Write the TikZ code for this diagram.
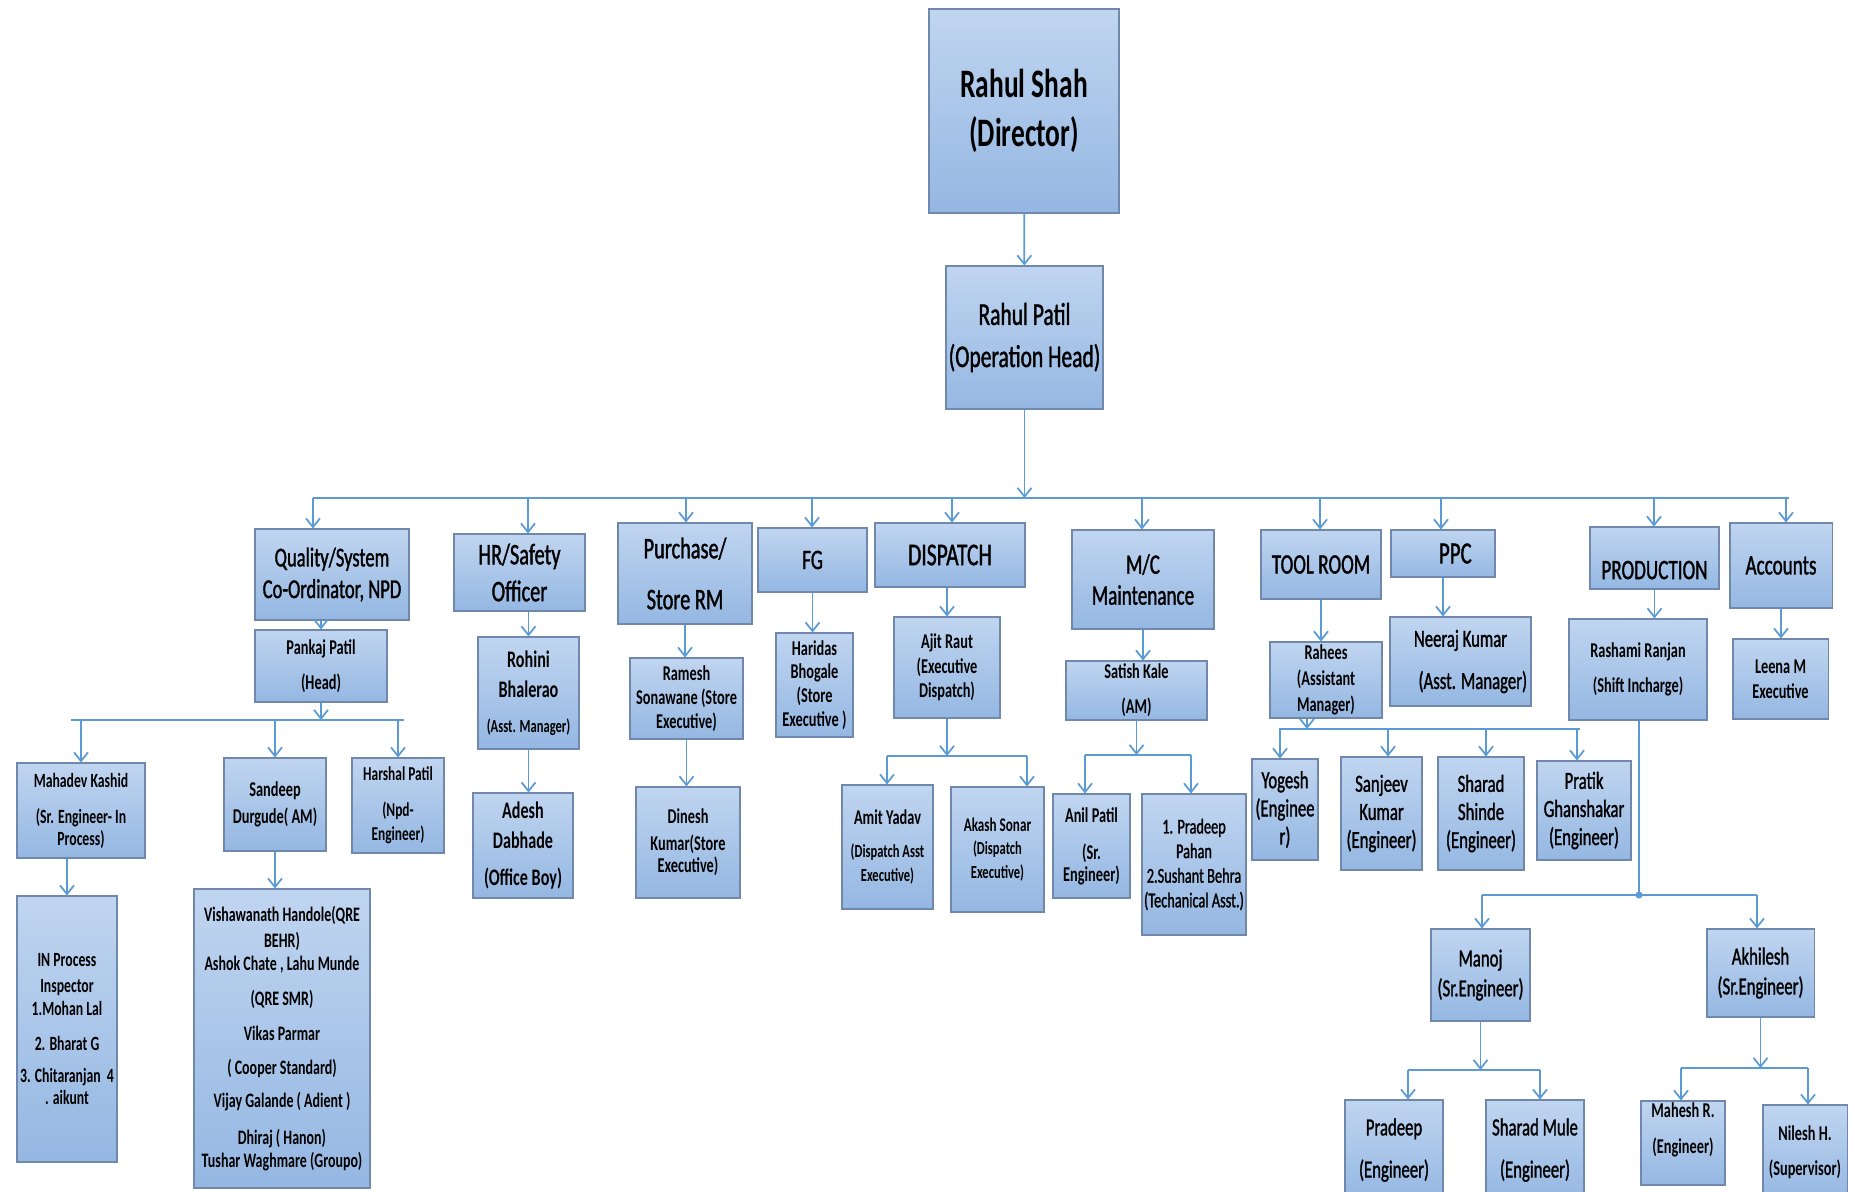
\documentclass[tikz,border=0pt]{standalone}
\usepackage{fontspec}
\setmainfont{Carlito}[FakeStretch=0.68,UprightFeatures={FakeBold=1.2}]
\usetikzlibrary{arrows.meta}
\definecolor{azul}{RGB}{91,155,213}
\definecolor{topo}{RGB}{192,213,240}
\definecolor{base}{RGB}{148,183,226}
\definecolor{borda}{RGB}{112,136,172}
% caixa[fonte]{nome}{x1}{y1}{x2}{y2}{texto}
\newcommand{\caixa}[7][]{%
  \node[caixa,#1,minimum width={(#5-#3)*0.02cm},minimum height={(#6-#4)*0.02cm}]
    (#2) at ({(#3+#5)/2},{(#4+#6)/2}) {#7};}
\newcommand{\menor}[1]{{\fontsize{10.5pt}{12pt}\selectfont #1}}

\begin{document}
\begin{tikzpicture}[x=0.02cm,y=-0.02cm,>={Straight Barb[length=5pt,width=8pt]},
  caixa/.style={draw=borda,line width=0.6pt,top color=topo,bottom color=base,inner sep=0pt,align=center},
  lig/.style={azul,line width=1pt,->},
  barra/.style={azul,line width=1.4pt}]
  \useasboundingbox (0,0) rectangle (1855,1191);

  %diretor e chefe de operacao
  \caixa[font=\bfseries\fontsize{23pt}{28pt}\selectfont]{shah}{929}{9}{1119}{213}{Rahul Shah\\(Director)}
  \caixa[font=\fontsize{18pt}{24pt}\selectfont]{patil}{946}{266}{1103}{409}{Rahul Patil\\(Operation Head)}

  %departamentos
  \caixa[font=\fontsize{15.5pt}{18pt}\selectfont]{qual}{255}{529}{409}{620}{Quality/System\\Co-Ordinator, NPD}
  \caixa[font=\fontsize{17pt}{21pt}\selectfont]{hr}{454}{534}{585}{611}{HR/Safety\\Officer}
  \caixa[font=\fontsize{17pt}{29pt}\selectfont]{purch}{618}{523}{752}{624}{Purchase/\\Store RM}
  \caixa[font=\fontsize{16pt}{19pt}\selectfont]{fg}{758}{528}{867}{592}{FG}
  \caixa[font=\fontsize{18pt}{21pt}\selectfont]{disp}{875}{523}{1025}{587}{DISPATCH}
  \caixa[font=\fontsize{16pt}{17.6pt}\selectfont]{mc}{1072}{530}{1214}{629}{M/C\\Maintenance}
  \caixa[font=\fontsize{16pt}{19pt}\selectfont]{tool}{1261}{530}{1381}{599}{TOOL ROOM}
  \caixa[font=\fontsize{17.5pt}{20pt}\selectfont]{ppc}{1391}{530}{1495}{577}{\hspace*{14pt}PPC}
  \caixa[font=\fontsize{16pt}{19pt}\selectfont,text height=24pt,text depth=0pt]{prod}{1590}{527}{1719}{589}{PRODUCTION}
  \caixa[font=\fontsize{16pt}{19pt}\selectfont]{acc}{1730}{523}{1832}{608}{Accounts}

  %segundo nivel
  \caixa[font=\bfseries\fontsize{12pt}{20pt}\selectfont]{pankaj}{255}{630}{387}{702}{Pankaj Patil\\(Head)}
  \caixa[font=\bfseries\fontsize{13.5pt}{17pt}\selectfont]{rohini}{478}{637}{579}{749}{Rohini\\Bhalerao\\[3pt]\menor{(Asst. Manager)}}
  \caixa[font=\bfseries\fontsize{12pt}{13.5pt}\selectfont]{ramesh}{630}{658}{743}{739}{Ramesh\\Sonawane (Store\\Executive)}
  \caixa[font=\bfseries\fontsize{12pt}{13.5pt}\selectfont]{haridas}{776}{633}{853}{737}{Haridas\\Bhogale\\(Store\\Executive )}
  \caixa[font=\bfseries\fontsize{12pt}{14pt}\selectfont]{ajit}{894}{617}{1000}{718}{Ajit Raut\\(Executive\\Dispatch)}
  \caixa[font=\bfseries\fontsize{12pt}{20pt}\selectfont]{satish}{1066}{661}{1207}{720}{Satish Kale\\(AM)}
  \caixa[font=\bfseries\fontsize{12pt}{15pt}\selectfont]{rahees}{1270}{642}{1382}{718}{Rahees\\(Assistant\\Manager)}
  \caixa[font=\fontsize{14pt}{24pt}\selectfont]{neeraj}{1390}{617}{1531}{706}{Neeraj Kumar\\\hspace*{14pt}(Asst. Manager)}
  \caixa[font=\bfseries\fontsize{12pt}{20pt}\selectfont]{rashami}{1569}{619}{1707}{720}{Rashami Ranjan\\(Shift Incharge)}
  \caixa[font=\bfseries\fontsize{12pt}{14pt}\selectfont]{leena}{1733}{639}{1828}{719}{Leena M\\Executive}

  %terceiro nivel
  \caixa[font=\bfseries\fontsize{11.5pt}{12.5pt}\selectfont]{mahadev}{17}{763}{145}{858}{Mahadev Kashid\\[8pt](Sr. Engineer- In\\Process)}
  \caixa[font=\bfseries\fontsize{12pt}{15pt}\selectfont]{sandeep}{224}{758}{326}{851}{Sandeep\\Durgude( AM)}
  \caixa[font=\bfseries\fontsize{11.2pt}{14pt}\selectfont]{harshal}{352}{758}{444}{853}{Harshal Patil\\[6pt](Npd-\\Engineer)}
  \caixa[font=\bfseries\fontsize{11.5pt}{13pt}\selectfont]{inproc}{17}{896}{117}{1162}{IN Process\\[2pt]Inspector\\1.Mohan Lal\\[7pt]2. Bharat G\\[5pt]3. Chitaranjan\ \ 4\\. aikunt}
  \caixa[font=\bfseries\fontsize{11.7pt}{13pt}\selectfont]{vish}{194}{889}{370}{1188}{Vishawanath Handole(QRE\\[2pt]BEHR)\\Ashok Chate , Lahu Munde\\[7pt](QRE SMR)\\[7pt]Vikas Parmar\\[6pt]( Cooper Standard)\\[6pt]Vijay Galande ( Adient )\\[8pt]Dhiraj ( Hanon)\\Tushar Waghmare (Groupo)}
  \caixa[font=\bfseries\fontsize{13.5pt}{17pt}\selectfont]{adesh}{473}{793}{573}{898}{Adesh\\Dabhade\\[4pt](Office Boy)}
  \caixa[font=\bfseries\fontsize{12pt}{13pt}\selectfont]{dinesh}{636}{787}{740}{898}{Dinesh\\[2pt]Kumar(Store\\Executive)}
  \caixa[font=\bfseries\fontsize{12pt}{13.5pt}\selectfont]{amit}{842}{785}{933}{909}{Amit Yadav\\[5pt]\menor{(Dispatch Asst}\\\menor{Executive)}}
  \caixa[font=\bfseries\fontsize{11pt}{13.3pt}\selectfont]{akash}{951}{787}{1044}{912}{Akash Sonar\\\menor{(Dispatch}\\\menor{Executive)}}
  \caixa[font=\bfseries\fontsize{12pt}{12.5pt}\selectfont]{anil}{1053}{794}{1130}{898}{Anil Patil\\[8.5pt](Sr.\\Engineer)}
  \caixa[font=\fontsize{12pt}{14pt}\selectfont]{pahan}{1142}{794}{1246}{935}{1. Pradeep\\Pahan\\2.Sushant Behra\\(Techanical Asst.)}
  \caixa[font=\fontsize{14pt}{16pt}\selectfont]{yogesh}{1252}{759}{1318}{860}{Yogesh\\(Enginee\\r)}
  \caixa[font=\fontsize{14pt}{16pt}\selectfont]{sanjeev}{1341}{757}{1422}{870}{Sanjeev\\Kumar\\(Engineer)}
  \caixa[font=\fontsize{14pt}{16pt}\selectfont]{sharads}{1438}{757}{1524}{870}{Sharad\\Shinde\\(Engineer)}
  \caixa[font=\fontsize{14pt}{16pt}\selectfont]{pratik}{1537}{761}{1631}{860}{Pratik\\Ghanshakar\\(Engineer)}

  %producao
  \caixa[font=\fontsize{14pt}{17pt}\selectfont]{manoj}{1431}{929}{1530}{1021}{Manoj\\(Sr.Engineer)}
  \caixa[font=\fontsize{14pt}{17pt}\selectfont]{akhilesh}{1707}{929}{1814}{1017}{Akhilesh\\(Sr.Engineer)}
  \caixa[font=\fontsize{14pt}{24pt}\selectfont]{pradeep}{1345}{1100}{1443}{1200}{Pradeep\\(Engineer)}
  \caixa[font=\fontsize{14pt}{24pt}\selectfont]{sharadm}{1486}{1100}{1584}{1200}{Sharad Mule\\(Engineer)}
  \caixa[font=\bfseries\fontsize{12pt}{21pt}\selectfont,text depth=17pt]{mahesh}{1641}{1101}{1725}{1185}{Mahesh R.\\(Engineer)}
  \caixa[font=\bfseries\fontsize{12pt}{20pt}\selectfont]{nilesh}{1763}{1105}{1847}{1200}{Nilesh H.\\(Supervisor)}

  %ligacoes de cima
  \draw[lig] (shah) -- (patil);
  \coordinate (bE) at (313,498);
  \coordinate (bD) at (1789,498);
  \draw[lig] (patil) -- (patil |- bE);
  \draw[barra] (bE) -- (bD);
  \foreach \n/\x in {qual/313,hr/528,purch/686,fg/812,disp/952,mc/1142,tool/1320,ppc/1441,prod/1654,acc/1786}{
    \coordinate (t) at (\x,498);
    \draw[lig] (t) -- (t |- \n.north);}

  %ligacoes simples
  \foreach \p/\f in {rohini/adesh,purch/ramesh,ramesh/dinesh,fg/haridas,mc/satish,ppc/neeraj,prod/rashami,acc/leena,sandeep/vish,tool/rahees}
    \draw[lig] (\p.south) -- (\p.south |- \f.north);
  \foreach \p/\f in {qual/pankaj,hr/rohini,disp/ajit,mahadev/inproc}
    \draw[lig] (\f.north |- \p.south) -- (\f.north);

  %barra da qualidade
  \coordinate (qE) at (71,720);
  \coordinate (qD) at (404,720);
  \draw[lig] (pankaj) -- (pankaj |- qE);
  \draw[barra] (qE) -- (qD);
  \foreach \f in {mahadev,sandeep,harshal}
    \draw[lig] (\f.north |- qE) -- (\f.north);

  %barra do dispatch
  \coordinate (dE) at (887,756);
  \coordinate (dD) at (1027,756);
  \draw[lig] (ajit.south) -- (ajit.south |- dE);
  \draw[barra] (dE) -- (dD);
  \draw[lig] (dE) -- (dE |- amit.north);
  \draw[lig] (dD) -- (dD |- akash.north);

  %barra da manutencao
  \coordinate (mE) at (1085,755);
  \coordinate (mD) at (1191,755);
  \draw[lig] (satish.south) -- (satish.south |- mE);
  \draw[barra] (mE) -- (mD);
  \draw[lig] (mE) -- (mE |- anil.north);
  \draw[lig] (mD) -- (mD |- pahan.north);

  %barra do tool room
  \coordinate (tE) at (1279,729);
  \coordinate (tD) at (1580,729);
  \coordinate (tR) at (1307,729);
  \draw[lig] (tR |- rahees.south) -- (tR);
  \draw[barra] (tE) -- (tD);
  \foreach \n/\x in {yogesh/1280,sanjeev/1388,sharads/1486,pratik/1577}{
    \coordinate (t) at (\x,729);
    \draw[lig] (t) -- (t |- \n.north);}

  %barra da producao
  \coordinate (pJ) at (1639,895);
  \coordinate (pE) at (1482,895);
  \coordinate (pD) at (1757,895);
  \draw[azul,line width=1pt] (rashami.south -| pJ) -- (pJ);
  \fill[azul] (pJ) circle (2pt);
  \draw[barra] (pE) -- (pD);
  \draw[lig] (pE) -- (pE |- manoj.north);
  \draw[lig] (pD) -- (pD |- akhilesh.north);
  \coordinate (nE) at (1408,1070);
  \coordinate (nD) at (1540,1070);
  \draw[lig] (manoj.south) -- (manoj.south |- nE);
  \draw[barra] (nE) -- (nD);
  \draw[lig] (nE) -- (nE |- pradeep.north);
  \draw[lig] (nD) -- (nD |- sharadm.north);
  \coordinate (kE) at (1681,1068);
  \coordinate (kD) at (1808,1068);
  \draw[lig] (akhilesh.south) -- (akhilesh.south |- kE);
  \draw[barra] (kE) -- (kD);
  \draw[lig] (kE) -- (kE |- mahesh.north);
  \draw[lig] (kD) -- (kD |- nilesh.north);
\end{tikzpicture}
\end{document}
